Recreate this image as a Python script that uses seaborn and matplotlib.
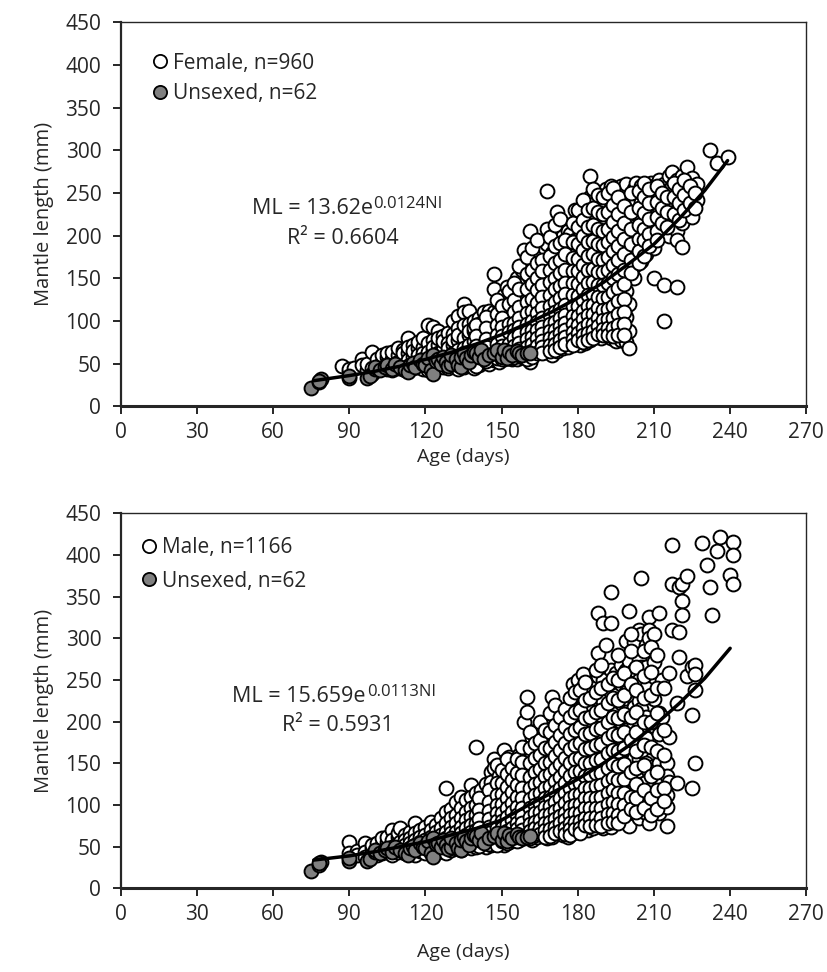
import matplotlib
matplotlib.use("Agg")
import matplotlib.pyplot as plt
from matplotlib.lines import Line2D
import pandas as pd
import seaborn as sns

# ---- data ----
# unsexed squid (same 62 points in both panels)
unsexed_age = [75, 78, 79, 78, 90, 90, 97, 98, 100, 100, 102, 104, 105, 107, 108, 110,
               112, 113, 114, 115, 116, 118, 119, 120, 121, 122, 123, 123, 124, 125, 126,
               127, 128, 129, 130, 130, 132, 133, 134, 134, 135, 136, 137, 138, 139, 140,
               141, 142, 143, 145, 147, 148, 150, 151, 152, 153, 154, 156, 157, 158, 160, 161]
unsexed_ml = [21, 28, 32, 30, 33, 36, 33, 35, 44, 46, 42, 46, 48, 44, 50, 46,
              42, 40, 48, 51, 46, 54, 50, 48, 57, 42, 38, 60, 53, 55, 50,
              58, 52, 47, 50, 60, 55, 48, 46, 58, 62, 57, 52, 60, 64, 63,
              58, 66, 55, 60, 63, 66, 58, 66, 57, 64, 60, 65, 62, 60, 62, 63]

# female: ML values grouped by age (days)
female_ages = [87, 90, 92, 95, 97, 99, 101, 103, 105, 107, 109, 111, 113, 115, 117, 119,
               121, 123, 125, 127, 129, 131, 133, 135, 137, 139, 141, 143, 145, 147, 149,
               151, 152, 154, 156, 158, 159, 161, 163, 165, 167, 168, 170, 172, 174, 176,
               177, 179, 181, 183, 185, 187, 189, 191, 193, 195, 197, 199, 200, 202, 203,
               205, 207, 209, 210, 212, 214, 216, 217, 219, 221, 223, 225, 227, 232, 235, 239,
               140, 144, 148, 150, 153, 155, 157, 160, 162, 164, 166, 169, 171, 173, 175,
               178, 180, 182, 184, 186, 188, 190, 192, 194, 196, 198, 201, 204, 206, 208,
               211, 213, 215, 218, 220, 222, 224, 226]
female_ml = [
    [47], [40, 44], [45], [55, 48], [42, 50], [64, 45, 38], [48, 55, 42], [52, 46, 60],
    [58, 50, 44, 62], [55, 48, 64, 42], [60, 52, 45, 68], [66, 50, 57, 44, 62],
    [80, 62, 54, 47, 70], [72, 58, 50, 45, 65], [68, 60, 52, 46, 75],
    [70, 62, 55, 48, 80, 44], [95, 74, 64, 56, 50, 42], [93, 78, 66, 58, 52, 45, 70],
    [88, 72, 62, 55, 48, 80], [82, 70, 60, 53, 46, 66, 76], [86, 74, 64, 56, 50, 45, 68],
    [100, 85, 72, 62, 55, 48, 78], [106, 92, 78, 66, 58, 50, 44, 84],
    [120, 110, 95, 80, 68, 60, 52, 46], [112, 96, 84, 72, 64, 56, 48, 88],
    [100, 88, 76, 66, 58, 50, 45, 92], [104, 90, 80, 70, 62, 54, 48, 96],
    [110, 96, 84, 74, 66, 58, 52, 88], [112, 100, 90, 80, 70, 62, 56, 50],
    [155, 137, 110, 98, 86, 76, 68, 60, 54], [120, 104, 92, 82, 74, 66, 58, 52, 96],
    [130, 115, 100, 90, 80, 72, 64, 56, 84], [140, 108, 94, 78, 68, 60],
    [115, 128, 102, 92, 84, 76, 68, 60, 55], [150, 135, 120, 106, 96, 86, 78, 70, 62, 56],
    [160, 142, 125, 112, 100, 90, 80, 72, 64, 58], [183, 130, 105, 88, 74, 66],
    [205, 170, 150, 135, 118, 104, 94, 84, 76, 68, 52],
    [165, 148, 132, 118, 106, 96, 86, 78, 70, 62],
    [175, 155, 140, 125, 112, 100, 90, 82, 74, 66, 160],
    [185, 165, 148, 132, 118, 106, 96, 88, 80, 72, 64], [252, 208, 190, 140, 110, 92],
    [180, 170, 155, 140, 126, 114, 102, 92, 84, 76, 68, 60],
    [228, 195, 175, 160, 145, 130, 118, 106, 96, 88, 80, 72, 65],
    [200, 182, 165, 150, 136, 122, 110, 100, 92, 84, 76, 68],
    [205, 188, 170, 155, 140, 128, 116, 105, 95, 86, 78, 70], [202, 175, 150, 125, 100, 82],
    [195, 178, 162, 148, 135, 122, 110, 100, 90, 82, 74, 230],
    [225, 205, 188, 170, 155, 140, 126, 114, 102, 92, 84, 76, 72],
    [235, 215, 198, 180, 165, 150, 136, 122, 110, 98, 88, 80, 74],
    [270, 245, 225, 205, 188, 172, 156, 142, 128, 115, 104, 94, 85, 78],
    [240, 220, 200, 182, 166, 150, 136, 122, 110, 100, 90, 82],
    [232, 212, 195, 178, 162, 148, 134, 120, 108, 96, 86, 80],
    [255, 235, 215, 198, 180, 165, 150, 135, 120, 106, 94, 84],
    [258, 240, 222, 205, 188, 172, 156, 140, 124, 110, 98, 88, 80],
    [250, 230, 212, 195, 178, 162, 146, 130, 115, 100, 88, 76],
    [258, 238, 220, 200, 182, 165, 148, 132, 116, 102, 90, 78],
    [260, 240, 222, 205, 188, 170, 152, 135, 118, 105, 88, 75],
    [68, 88, 120, 160, 198, 238], [255, 235, 215, 198, 180, 165, 150],
    [262, 242, 225, 208, 192, 175], [258, 240, 220, 200, 185, 170],
    [250, 232, 215, 205, 190, 178], [262, 245, 228, 212, 196], [150, 185, 225, 258],
    [265, 248, 232, 215, 200], [100, 142, 222, 240, 260], [270, 252, 235, 218, 200],
    [275, 258, 240], [140, 265, 248, 230, 205, 195], [270, 250, 232, 215, 187],
    [280, 262, 245, 228], [268, 250, 240, 222], [260, 242], [300], [285], [292],
    # in-between ages
    [95, 82, 71, 61, 53, 47], [105, 92, 79, 69, 60, 53], [125, 108, 95, 84, 73, 64, 57],
    [118, 104, 93, 82, 71, 62, 55], [135, 120, 97, 87, 73, 63, 57],
    [145, 125, 110, 98, 89, 80, 71, 64, 58], [165, 138, 116, 103, 93, 83, 74, 67, 60],
    [175, 155, 138, 122, 109, 97, 87, 79, 70, 62, 56],
    [185, 160, 143, 126, 112, 100, 90, 81, 73, 65, 58],
    [195, 168, 150, 136, 121, 109, 99, 89, 80, 71, 63],
    [172, 158, 142, 128, 115, 103, 93, 85, 77, 69, 62],
    [198, 176, 160, 146, 131, 118, 107, 97, 88, 80, 72, 65],
    [212, 188, 168, 150, 137, 122, 110, 99, 90, 81, 73, 66],
    [220, 191, 172, 156, 141, 127, 114, 103, 94, 86, 78, 70],
    [195, 178, 160, 145, 132, 119, 107, 98, 89, 81, 73],
    [215, 192, 174, 158, 144, 131, 118, 106, 96, 87, 79, 72],
    [230, 210, 190, 173, 158, 143, 129, 117, 106, 95, 86, 78],
    [242, 218, 200, 183, 166, 152, 137, 124, 112, 102, 92, 83, 75],
    [230, 210, 193, 176, 160, 145, 131, 118, 107, 96, 86, 78],
    [255, 232, 212, 194, 178, 161, 146, 132, 119, 108, 97, 88, 80],
    [248, 228, 208, 190, 173, 157, 142, 128, 115, 104, 94, 85],
    [245, 225, 206, 189, 172, 157, 142, 127, 113, 101, 91, 83],
    [250, 228, 208, 192, 175, 160, 144, 128, 114, 102, 92, 83],
    [256, 236, 216, 198, 182, 166, 150, 134, 118, 104, 92, 82],
    [245, 225, 206, 188, 171, 155, 139, 123, 108, 95, 83],
    [235, 215, 196, 178, 160, 143, 126, 111, 97, 84],
    [250, 228, 208, 190, 172, 156], [252, 232, 212, 196, 182, 168],
    [262, 245, 226, 208, 195, 176], [255, 238, 220, 202, 188], [258, 240, 222, 206, 195],
    [250, 232, 215], [245, 228, 210], [262, 245, 225], [255, 238, 218], [265, 248, 230],
    [258, 238], [250, 232],
]

# male: ML values grouped by age (days)
male_ages = [90, 93, 96, 99, 101, 103, 105, 107, 109, 110, 112, 114, 116, 118, 120, 122,
             124, 126, 128, 130, 132, 134, 136, 138, 140, 142, 144, 146, 147, 149, 151,
             153, 155, 157, 159, 160, 162, 164, 166, 168, 170, 172, 174, 176, 178, 180,
             182, 184, 186, 188, 190, 191, 193, 195, 197, 199, 200, 202, 204, 205, 207,
             208, 210, 212, 213, 215, 216, 217, 219, 220, 221, 223, 225, 226, 229, 231,
             232, 233, 235, 236, 240, 241,
             141, 145, 148, 150, 152, 154, 156, 158, 161, 163, 165, 167, 169, 171, 173,
             175, 177, 179, 181, 183, 185, 187, 189, 192, 194, 196, 198, 201, 203, 206,
             209, 211, 214]
male_ml = [
    [56, 38, 42], [45, 40], [55, 44, 38], [48, 42, 52], [50, 45, 40, 55], [52, 46, 42, 60],
    [56, 48, 44, 62], [70, 58, 50, 45, 40], [62, 54, 48, 44, 66], [72, 56, 50],
    [64, 58, 52, 46, 42], [68, 60, 54, 48, 44], [78, 66, 58, 52, 46, 40],
    [70, 62, 56, 50, 45], [74, 64, 58, 52, 47, 42], [80, 70, 62, 55, 50, 44],
    [76, 68, 60, 54, 48, 42], [84, 72, 64, 57, 50, 45], [120, 92, 78, 68, 60, 54, 48, 42],
    [95, 84, 74, 66, 58, 52, 46], [104, 88, 78, 68, 60, 54, 48],
    [110, 96, 84, 74, 66, 58, 52, 46], [106, 92, 82, 72, 64, 56, 50],
    [124, 110, 96, 86, 76, 68, 60, 54, 48], [170, 115, 100, 88, 78, 70, 62, 56, 50],
    [118, 104, 92, 82, 74, 66, 58, 52], [125, 110, 98, 88, 78, 70, 62, 55, 50],
    [140, 128, 114, 102, 92, 82, 74, 66, 58, 52], [155, 144, 120, 96, 70],
    [135, 120, 108, 96, 86, 78, 70, 62, 56],
    [166, 150, 132, 118, 104, 92, 82, 74, 66, 58, 52],
    [158, 140, 124, 110, 98, 88, 78, 70, 62, 56], [150, 135, 120, 106, 95, 85, 76, 68, 60],
    [160, 145, 128, 114, 102, 92, 82, 74, 66, 58],
    [200, 165, 148, 132, 118, 105, 94, 84, 75, 68, 60], [230, 212, 140, 110, 88],
    [180, 160, 144, 128, 114, 102, 92, 82, 74, 66, 58],
    [190, 170, 152, 136, 122, 108, 96, 86, 78, 70, 62],
    [175, 158, 142, 128, 114, 102, 92, 82, 74, 66],
    [200, 180, 162, 146, 130, 116, 104, 94, 84, 76, 68, 60],
    [230, 205, 185, 166, 150, 135, 120, 108, 96, 86, 76, 68, 62],
    [215, 195, 175, 158, 142, 128, 114, 102, 92, 82, 74, 66],
    [210, 190, 172, 155, 140, 125, 112, 100, 90, 80, 72, 64],
    [205, 185, 166, 150, 135, 120, 108, 96, 86, 78, 70, 62],
    [245, 222, 200, 180, 162, 146, 130, 116, 104, 92, 82, 74, 66],
    [250, 225, 205, 185, 168, 150, 135, 120, 106, 94, 84, 75, 68],
    [257, 242, 220, 198, 178, 160, 144, 128, 114, 100, 90, 80, 72],
    [235, 212, 192, 172, 155, 140, 125, 112, 100, 88, 78, 70],
    [240, 218, 196, 178, 160, 144, 128, 114, 102, 90, 80, 72],
    [330, 282, 255, 225, 200, 180, 162, 145, 128, 114, 100, 88, 78],
    [318, 250, 225, 205, 185, 166, 148, 132, 118, 104, 92, 80, 72],
    [292, 240, 212, 190, 150, 120, 90],
    [355, 318, 262, 235, 210, 188, 168, 150, 134, 118, 104, 92, 80, 74],
    [258, 232, 210, 190, 170, 152, 136, 120, 106, 94, 82],
    [268, 245, 222, 200, 180, 160, 142, 126, 112, 98, 86],
    [297, 262, 235, 212, 190, 170, 150, 132, 116, 102, 88],
    [333, 273, 250, 75, 120, 100],
    [295, 262, 240, 218, 196, 176, 156, 138, 120, 104, 92],
    [310, 275, 250, 225, 200, 178, 155, 135, 118, 100, 85],
    [372, 305, 265, 215, 165, 125], [292, 265, 240, 205, 180, 150, 128, 108, 90],
    [325, 310, 300, 78, 112, 140], [305, 272, 227, 195, 147, 125, 105],
    [330, 210, 185, 150, 130, 100, 90], [250, 205, 115], [150, 98, 75, 135, 112],
    [258, 182, 128], [412, 365, 310], [222, 127], [278, 308, 362], [365, 345, 328],
    [375, 255], [208, 120, 265], [268, 257, 238, 150], [414], [388], [362], [328],
    [405], [422], [376], [416, 400, 365],
    # in-between ages
    [108, 94, 83, 73, 65, 57, 51], [118, 104, 93, 83, 74, 66, 59, 53],
    [148, 126, 112, 100, 90, 81, 73, 65, 58, 52], [142, 127, 113, 101, 90, 81, 72, 64, 57],
    [155, 137, 122, 108, 96, 86, 77, 69, 61, 55], [145, 130, 116, 103, 92, 82, 73, 65, 58],
    [155, 139, 124, 110, 98, 88, 79, 71, 63, 57], [170, 152, 136, 121, 108, 97, 87, 78, 70, 63],
    [188, 168, 150, 134, 120, 107, 96, 86, 77, 69, 61],
    [175, 157, 140, 125, 112, 100, 90, 80, 72, 64],
    [200, 178, 160, 143, 128, 115, 103, 92, 82, 73, 65],
    [190, 168, 150, 135, 121, 109, 98, 88, 79, 70, 62],
    [210, 188, 169, 152, 137, 123, 110, 99, 89, 80, 71, 63],
    [220, 196, 176, 159, 143, 129, 116, 104, 93, 83, 74, 66],
    [205, 184, 166, 149, 134, 120, 108, 97, 87, 78, 69],
    [215, 193, 174, 157, 141, 127, 114, 102, 91, 82, 73, 65],
    [228, 205, 185, 167, 150, 135, 121, 109, 98, 88, 79, 71, 64],
    [236, 212, 190, 172, 155, 140, 125, 112, 100, 90, 80, 71],
    [238, 214, 193, 175, 157, 141, 126, 113, 101, 91, 81, 73, 67],
    [248, 226, 204, 185, 167, 150, 135, 121, 108, 96, 85, 76],
    [228, 206, 186, 168, 151, 136, 121, 108, 96, 85, 75],
    [262, 236, 212, 191, 172, 154, 138, 123, 109, 97, 86, 76],
    [268, 240, 214, 192, 173, 155, 139, 124, 110, 97, 85, 75],
    [245, 222, 200, 180, 162, 145, 129, 114, 101, 89, 78],
    [252, 228, 206, 185, 166, 149, 133, 118, 104, 91, 80],
    [280, 250, 226, 204, 184, 165, 147, 130, 115, 101, 88, 78],
    [258, 232, 209, 188, 168, 149, 131, 115, 100, 87],
    [305, 285, 245, 205, 178, 140, 110, 95], [265, 238, 212, 188, 165, 145, 125, 108, 92],
    [285, 255, 228, 200, 172, 148, 118, 96], [290, 260, 232, 200, 170, 135, 108, 88],
    [280, 240, 210, 165, 140, 118, 95], [240, 190, 160, 120, 105],
]

# trend lines as drawn on the chart
female_line_age = [76, 90, 100, 110, 120, 130, 140, 150, 160, 170, 180, 190, 200, 210, 220, 230, 239]
female_line_ml = [30, 36, 41, 47, 55, 63, 73, 84, 97, 111, 127, 145, 167, 190, 220, 253, 288]
male_line_age = [76, 90, 100, 110, 120, 130, 140, 150, 160, 170, 180, 190, 200, 210, 220, 230, 240]
male_line_ml = [34, 39, 44, 50, 56, 64, 72, 82, 99, 115, 131, 150, 171, 195, 222, 252, 288]

x_ticks = list(range(0, 271, 30))
y_ticks = list(range(0, 451, 50))


def expand(ages, groups):
    return pd.DataFrame({"age": [a for a, g in zip(ages, groups) for _ in g],
                         "ml": [v for g in groups for v in g]})


sns.set_style("ticks")
plt.rcParams["font.family"] = ["Open Sans", "DejaVu Sans"]

fig = plt.figure(figsize=(8.27, 9.72), dpi=100)
ax1 = fig.add_axes([0.146, 0.582, 0.829, 0.395])
ax2 = fig.add_axes([0.146, 0.086, 0.829, 0.386])

unsexed = pd.DataFrame({"age": unsexed_age, "ml": unsexed_ml})
# (axis, points, legend label, line x, line y, eq main, eq exponent, r2 text,
#  eq anchor, r2 anchor, legend anchor, legend spacing, xlabel pad)
panels = [
    (ax1, expand(female_ages, female_ml), "Female, n=960", female_line_age, female_line_ml,
     "ML = 13.62e", "0.0124NI", "R² = 0.6604", (51.5, 225), (87.5, 190),
     (0.042, 0.921), 0.45, 4),
    (ax2, expand(male_ages, male_ml), "Male, n=1166", male_line_age, male_line_ml,
     "ML = 15.659e", "0.0113NI", "R² = 0.5931", (44.0, 223), (85.5, 189),
     (0.026, 0.937), 0.62, 13),
]

for (ax, df, lab, lx, ly, eq, ex, r2, eq_pos, r2_pos,
     leg_pos, leg_sp, xpad) in panels:
    sns.scatterplot(data=df, x="age", y="ml", ax=ax, s=100, color="white",
                    edgecolor="black", linewidth=1.4, legend=False, zorder=2)
    sns.scatterplot(data=unsexed, x="age", y="ml", ax=ax, s=100, color="#808080",
                    edgecolor="black", linewidth=1.4, legend=False, zorder=3)
    sns.lineplot(x=lx, y=ly, ax=ax, color="black", linewidth=2.5, zorder=4)

    ax.set_xlim(0, 270)
    ax.set_ylim(0, 450)
    ax.set_xticks(x_ticks)
    ax.set_yticks(y_ticks)
    ax.tick_params(axis="both", direction="out", length=6, width=1.4, labelsize=15)
    ax.tick_params(axis="y", pad=8)
    ax.tick_params(axis="x", pad=5)
    ax.set_xlabel("Age (days)", fontsize=14, labelpad=xpad)
    ax.set_ylabel("Mantle length (mm)", fontsize=14.5, labelpad=8)
    for side in ["top", "right"]:
        ax.spines[side].set_visible(True)
        ax.spines[side].set_linewidth(1.0)
    ax.spines["left"].set_linewidth(1.6)
    ax.spines["bottom"].set_linewidth(2.2)

    t = ax.text(*eq_pos, eq, ha="left", va="baseline", fontsize=15.5)
    ax.annotate(ex, xy=(1, 1), xycoords=t, xytext=(0.5, 1.5), textcoords="offset points",
                ha="left", va="top", fontsize=12)
    ax.text(*r2_pos, r2, ha="center", va="baseline", fontsize=15.5)

    handles = [
        Line2D([], [], marker="o", linestyle="none", markersize=9.5, markerfacecolor="white",
               markeredgecolor="black", markeredgewidth=1.3, label=lab),
        Line2D([], [], marker="o", linestyle="none", markersize=9.5, markerfacecolor="#808080",
               markeredgecolor="black", markeredgewidth=1.3, label="Unsexed, n=62"),
    ]
    ax.legend(handles=handles, loc="upper left", bbox_to_anchor=leg_pos, frameon=False,
              fontsize=15, handletextpad=0.12, handlelength=1.0, borderaxespad=0,
              borderpad=0, labelspacing=leg_sp)

fig.savefig("out.png", dpi=100)
